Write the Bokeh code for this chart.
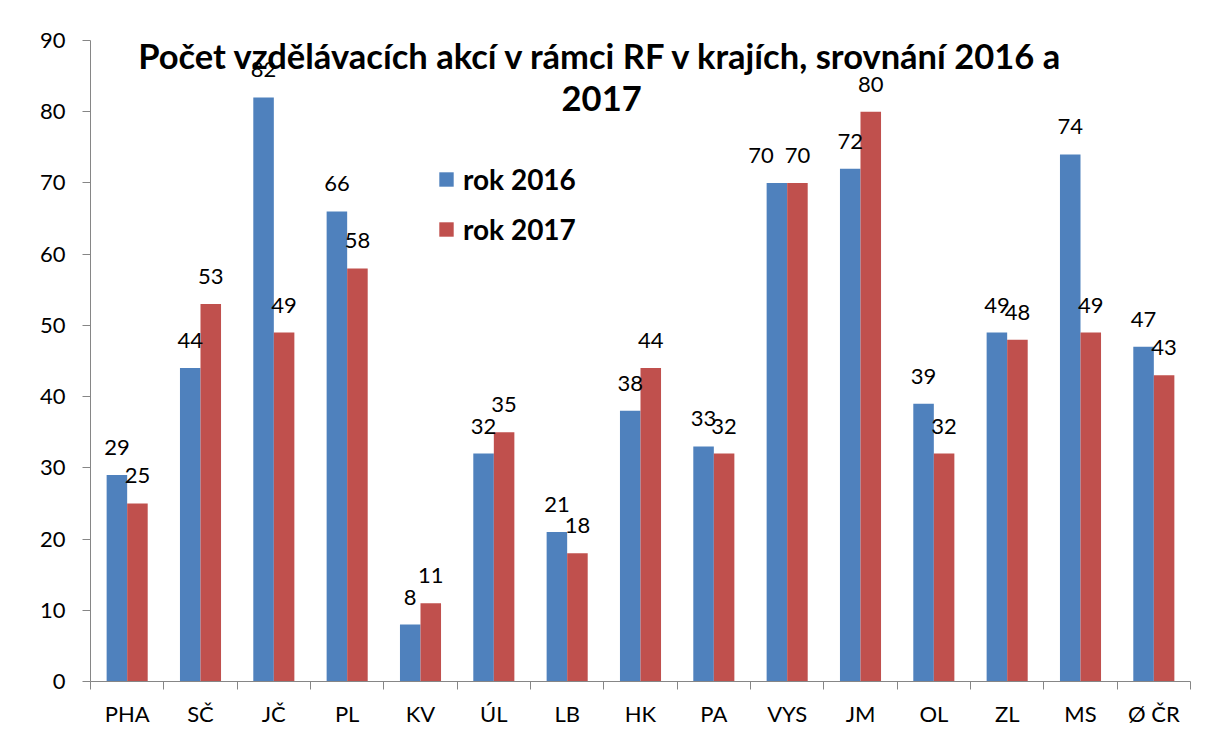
from bokeh.plotting import figure
from bokeh.models import Range1d, FixedTicker, LabelSet, ColumnDataSource, Legend, LegendItem, Label
from bokeh.core.properties import value
from bokeh.embed import file_html
from bokeh.resources import INLINE
import numpy as np

categories = ["PHA", "SČ", "JČ", "PL", "KV", "ÚL", "LB", "HK", "PA", "VYS", "JM", "OL", "ZL", "MS", "Ø ČR"]
rok_2016 = [29, 44, 82, 66, 8, 32, 21, 38, 33, 70, 72, 39, 49, 74, 47]
rok_2017 = [25, 53, 49, 58, 11, 35, 18, 44, 32, 70, 80, 32, 48, 49, 43]
y_ticks = list(range(0, 91, 10))

FONT = "Lato"
BLUE = "#4F81BD"
RED = "#C0504D"
AX = "#868686"

n = len(categories)
centers = np.arange(n) + 0.5
off = 0.14
bw = 0.28

# like Excel, nudge the left label aside when both labels sit at the same height
nudge16 = [-16 if a == b else 0 for a, b in zip(rok_2016, rok_2017)]

src16 = ColumnDataSource(dict(x=centers - off, top=rok_2016, lab=[str(v) for v in rok_2016], dx=nudge16))
src17 = ColumnDataSource(dict(x=centers + off, top=rok_2017, lab=[str(v) for v in rok_2017], dx=[0] * n))

p = figure(width=1192, height=729, output_backend="svg", toolbar_location=None,
           x_range=Range1d(0, n), y_range=Range1d(0, 90),
           min_border_left=90, min_border_top=40, min_border_bottom=44, min_border_right=2)
p.outline_line_color = None
p.xgrid.grid_line_color = None
p.ygrid.grid_line_color = None

r16 = p.vbar(x="x", top="top", width=bw, source=src16, fill_color=BLUE, line_color=None)
r17 = p.vbar(x="x", top="top", width=bw, source=src17, fill_color=RED, line_color=None)

for src in (src16, src17):
    p.add_layout(LabelSet(x="x", y="top", text="lab", source=src, text_align="center",
                          text_baseline="alphabetic", x_offset="dx", y_offset=20, text_font=value(FONT),
                          text_font_size=value("22px"), text_color="black"))

# y axis
p.yaxis.ticker = FixedTicker(ticks=y_ticks)
p.yaxis.axis_line_color = AX
p.yaxis.major_tick_line_color = AX
p.yaxis.major_tick_out = 8
p.yaxis.major_tick_in = 0
p.yaxis.minor_tick_line_color = None
p.yaxis.major_label_text_font = FONT
p.yaxis.major_label_text_font_size = "22px"
p.yaxis.major_label_text_color = "black"
p.yaxis.major_label_standoff = 17

# x axis: labels at centers, ticks at boundaries
p.xaxis.ticker = FixedTicker(ticks=list(centers), minor_ticks=list(range(n + 1)))
p.xaxis.major_label_overrides = {float(c): cat for c, cat in zip(centers, categories)}
p.xaxis.axis_line_color = AX
p.xaxis.major_tick_line_color = None
p.xaxis.major_tick_out = 0
p.xaxis.major_tick_in = 0
p.xaxis.minor_tick_line_color = AX
p.xaxis.minor_tick_out = 8
p.xaxis.minor_tick_in = 0
p.xaxis.major_label_text_font = FONT
p.xaxis.major_label_text_font_size = "22px"
p.xaxis.major_label_text_color = "black"
p.xaxis.major_label_standoff = 10

# title inside the plot area
p.add_layout(Label(x=6.97, y=87.9, text="Počet vzdělávacích akcí v rámci RF v krajích, srovnání 2016 a",
                   text_align="center", text_baseline="middle", text_font=FONT,
                   text_font_size="34.5px", text_font_style="bold", text_color="black"))
p.add_layout(Label(x=6.97, y=81.9, text="2017",
                   text_align="center", text_baseline="middle", text_font=FONT,
                   text_font_size="34.5px", text_font_style="bold", text_color="black"))

legend = Legend(items=[LegendItem(label="rok 2016", renderers=[r16]),
                       LegendItem(label="rok 2017", renderers=[r17])],
                location=(347, 435), orientation="vertical",
                label_text_font=FONT, label_text_font_size="28px", label_text_font_style="bold",
                label_text_color="black", glyph_width=18, glyph_height=18,
                label_standoff=8, spacing=16, padding=0, margin=0,
                border_line_color=None, background_fill_alpha=0)
p.add_layout(legend)

open("out.html", "w").write(file_html(p, INLINE))
